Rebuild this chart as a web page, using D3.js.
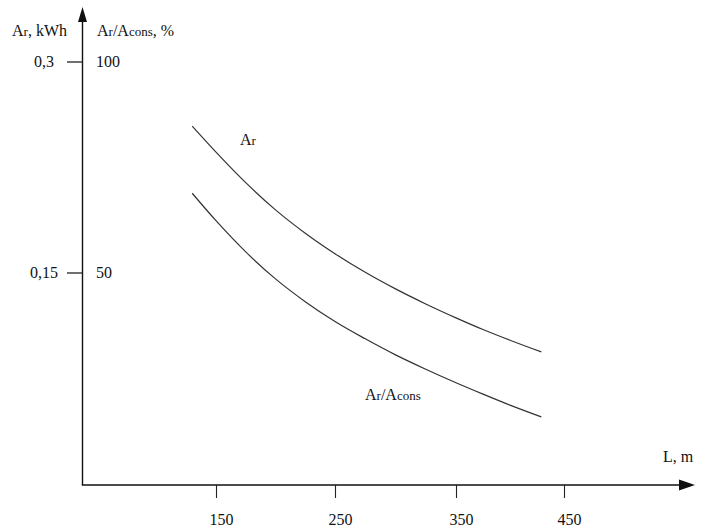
<!DOCTYPE html>
<html>
<head>
<meta charset="utf-8">
<script src="https://cdn.jsdelivr.net/npm/d3@7/dist/d3.min.js"></script>
<style>
  html, body { margin: 0; padding: 0; background: #fff; }
  svg { display: block; }
  text { font-family: "Liberation Serif", "Times New Roman", serif; fill: #111; }
</style>
</head>
<body>
<svg id="chart" width="707" height="528"></svg>
<script>
// Distance along the line, m
const xTicks = [150, 250, 350, 450];
// Left scale: energy Ar, kWh
const kwhTicks = [0.15, 0.3];
const kwhTickLabels = ["0,15", "0,3"];
// Right-hand labels: share Ar/Acons, %
const pctTicks = [50, 100];
const pctTickLabels = ["50", "100"];

// Sample distances, m
const distL = [130, 150, 175, 200, 225, 250, 275, 300, 325, 350, 375, 400, 429];
// Ar, kWh at each distance
const arKwh = [0.2544, 0.2359, 0.2142, 0.1949, 0.1783, 0.1637, 0.1505, 0.1387, 0.1280, 0.1181, 0.1098, 0.1022, 0.0939];
// Ar/Acons, % at each distance
const ratioPct = [68.9, 62.4, 55.0, 48.6, 43.2, 38.5, 34.4, 30.6, 27.2, 24.0, 21.3, 18.7, 15.9];

const svg = d3.select("#chart");

const x = d3.scaleLinear().domain([150, 250, 350, 450]).range([216, 335, 456, 564]);
const yKwh = d3.scaleLinear().domain([0, 0.3]).range([484, 62]);
const yPct = d3.scaleLinear().domain([0, 100]).range([484, 62]);

const originX = 82.5, originY = 485;

// axes with arrow heads
svg.append("line").attr("x1", originX).attr("y1", originY).attr("x2", originX).attr("y2", 18)
  .attr("stroke", "#111").attr("stroke-width", 1.4);
svg.append("path").attr("d", `M${originX},7 L${originX - 4.5},22 L${originX + 4.5},22 Z`).attr("fill", "#111");

svg.append("line").attr("x1", originX - 0.7).attr("y1", originY).attr("x2", 684).attr("y2", originY)
  .attr("stroke", "#111").attr("stroke-width", 1.4);
svg.append("path").attr("d", `M695,${originY} L679,${originY - 5.5} L679,${originY + 5.5} Z`).attr("fill", "#111");

// bottom axis ticks
const xAxis = svg.append("g").attr("transform", `translate(0,${originY})`)
  .call(d3.axisBottom(x).tickValues(xTicks).tickSizeInner(13).tickSizeOuter(0).tickPadding(16).tickFormat(d3.format("d")));
xAxis.select(".domain").remove();
xAxis.selectAll(".tick line").attr("stroke", "#222").attr("stroke-width", 1.1);
xAxis.selectAll(".tick text").attr("font-size", 16).attr("dx", 5)
  .style("font-family", '"Liberation Serif", serif').attr("fill", "#111");

// left ticks (kWh) and right labels (%)
kwhTicks.forEach((v, i) => {
  const yy = yKwh(v);
  svg.append("line").attr("x1", 67).attr("x2", originX).attr("y1", yy).attr("y2", yy)
    .attr("stroke", "#222").attr("stroke-width", 1.3);
  svg.append("text").attr("x", 44).attr("y", yy + 5).attr("text-anchor", "middle")
    .attr("font-size", 16).text(kwhTickLabels[i]);
});
pctTicks.forEach((v, i) => {
  svg.append("text").attr("x", 96).attr("y", yPct(v) + 5).attr("font-size", 16).text(pctTickLabels[i]);
});

// axis titles
const t1 = svg.append("text").attr("x", 12).attr("y", 36).attr("font-size", 16);
t1.append("tspan").text("A");
t1.append("tspan").attr("font-size", 13).text("r");
t1.append("tspan").text(", kWh");

const t2 = svg.append("text").attr("x", 97).attr("y", 36).attr("font-size", 16);
t2.append("tspan").text("A");
t2.append("tspan").attr("font-size", 13).text("r");
t2.append("tspan").text("/A");
t2.append("tspan").attr("font-size", 13).text("cons");
t2.append("tspan").text(", %");

svg.append("text").attr("x", 663).attr("y", 462).attr("font-size", 16).text("L, m");

// curves
const lineKwh = d3.line().x(d => x(d[0])).y(d => yKwh(d[1])).curve(d3.curveMonotoneX);
const linePct = d3.line().x(d => x(d[0])).y(d => yPct(d[1])).curve(d3.curveMonotoneX);

svg.append("path").datum(d3.zip(distL, arKwh)).attr("d", lineKwh)
  .attr("fill", "none").attr("stroke", "#333").attr("stroke-width", 1.2);
svg.append("path").datum(d3.zip(distL, ratioPct)).attr("d", linePct)
  .attr("fill", "none").attr("stroke", "#333").attr("stroke-width", 1.2);

// curve labels
const c1 = svg.append("text").attr("x", 240).attr("y", 145).attr("font-size", 16);
c1.append("tspan").text("A");
c1.append("tspan").attr("font-size", 13).text("r");

const c2 = svg.append("text").attr("x", 365).attr("y", 400).attr("font-size", 16);
c2.append("tspan").text("A");
c2.append("tspan").attr("font-size", 13).text("r");
c2.append("tspan").text("/A");
c2.append("tspan").attr("font-size", 13).text("cons");
</script>
</body>
</html>
